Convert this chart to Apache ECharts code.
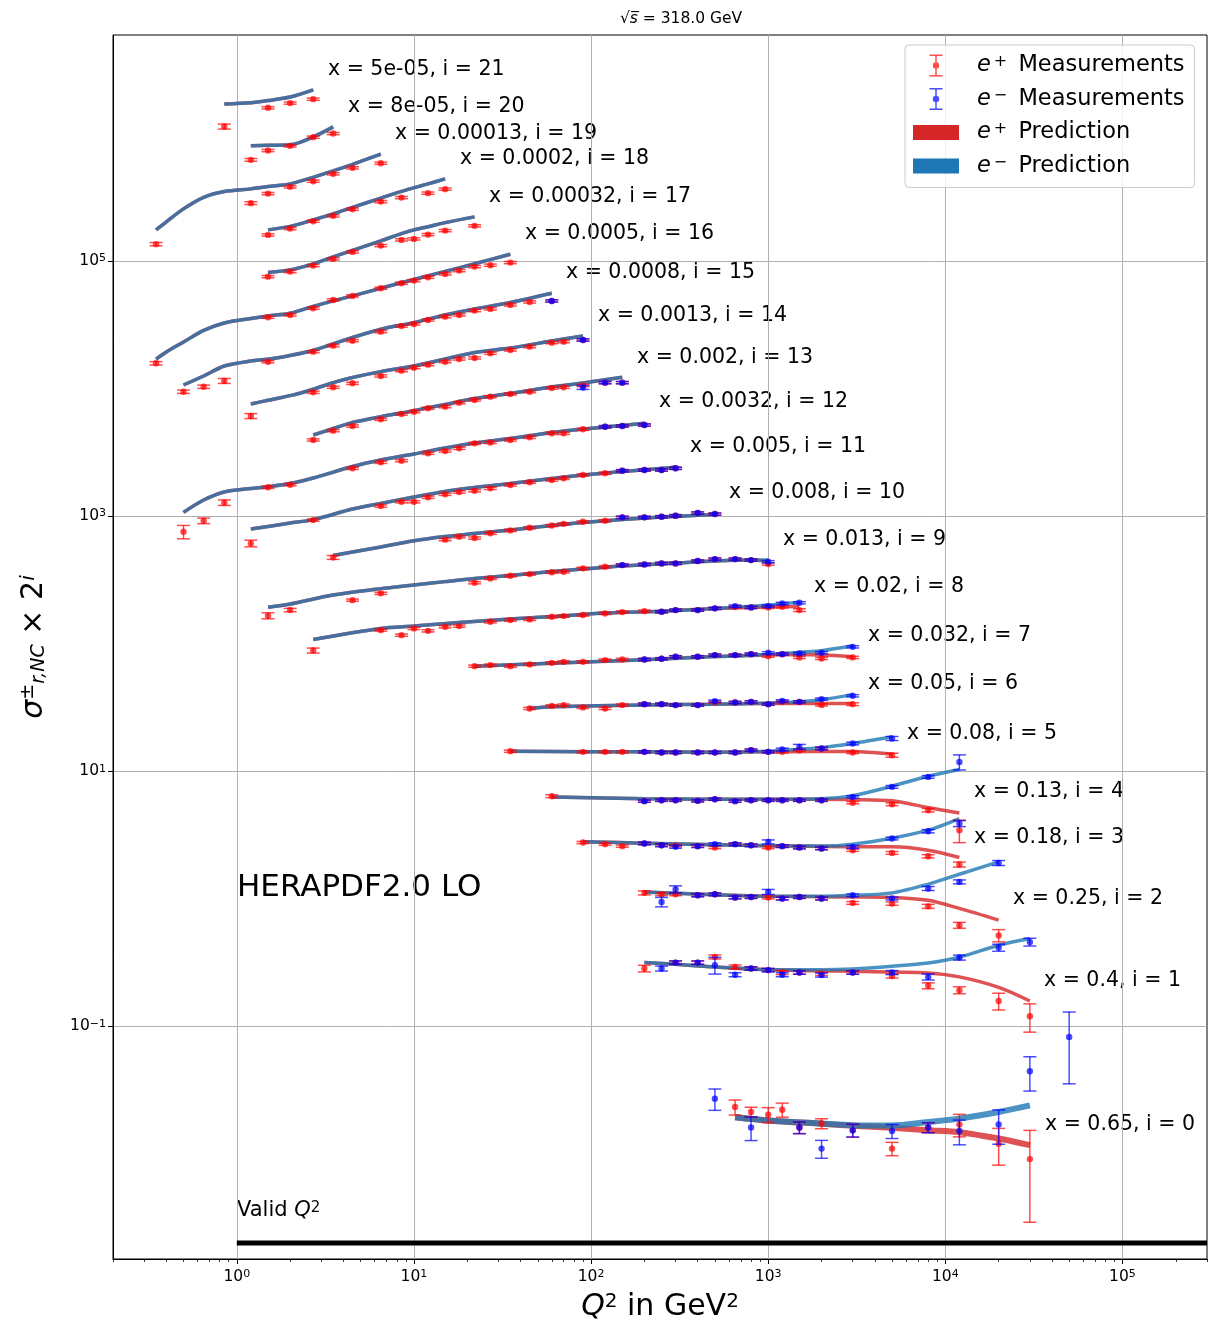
<!DOCTYPE html>
<html>
<head>
<meta charset="utf-8">
<script src="https://cdn.jsdelivr.net/npm/echarts@6/dist/echarts.min.js"></script>
<style>
html, body { margin: 0; padding: 0; background: #fff; }
#chart { width: 1216px; height: 1332px; }
</style>
</head>
<body>
<div id="chart"></div>
<script>
// x value of each bin, index = i (plotted value is sigma * 2^i)
var binX = ['0.65', '0.4', '0.25', '0.18', '0.13', '0.08', '0.05', '0.032', '0.02', '0.013', '0.008',
  '0.005', '0.0032', '0.002', '0.0013', '0.0008', '0.0005', '0.00032', '0.0002', '0.00013', '8e-05', '5e-05'];

// measurements: [Q2, reduced sigma, error in %]
var pos0 = [[650,0.0233,13.5],[800,0.0213,9],[1000,0.0203,13.5],[1200,0.0222,12.6],[1500,0.0161,10.5],[2000,0.0173,9],[3000,0.0153,11.5],[5000,0.0110,12],[8000,0.0161,9],[12000,0.0170,20],[20000,0.0120,32],[30000,0.0091,68]];
var neg0 = [[500,0.0271,19],[800,0.0161,21],[1500,0.0161,10.5],[2000,0.0110,16],[3000,0.0153,11.5],[5000,0.0151,12.6],[8000,0.0161,9],[12000,0.0151,22],[20000,0.0170,30],[30000,0.0444,30],[50000,0.0824,57]];
var pos1 = [[200,0.142,6],[300,0.158,3],[400,0.158,3],[500,0.175,3.6],[650,0.146,3.6],[800,0.142,3],[1000,0.138,3],[1200,0.132,3.6],[1500,0.132,3],[2000,0.129,3],[3000,0.132,3],[5000,0.124,3.6],[8000,0.104,5.4],[12000,0.096,6.3],[20000,0.079,15],[30000,0.060,25]];
var neg1 = [[250,0.142,4.5],[300,0.158,3],[400,0.158,3],[500,0.151,15],[650,0.127,3.6],[800,0.142,3],[1000,0.138,3],[1200,0.127,3.6],[1500,0.132,3],[2000,0.126,3.6],[3000,0.132,3],[5000,0.132,3.6],[8000,0.122,5.4],[12000,0.173,4.5],[20000,0.207,6.3],[30000,0.229,7]];
var pos2 = [[200,0.278,3.6],[250,0.271,2.5],[300,0.271,2.5],[400,0.266,2.5],[500,0.271,2.5],[650,0.256,2.5],[800,0.258,2.5],[1000,0.256,2.5],[1200,0.251,2.5],[1500,0.258,2.5],[2000,0.251,2.5],[3000,0.232,2.5],[5000,0.229,3],[8000,0.218,3.6],[12000,0.155,5.4],[20000,0.129,11]];
var neg2 = [[250,0.236,8.5],[300,0.297,6.3],[400,0.266,2.5],[500,0.271,2.5],[650,0.256,2.5],[800,0.258,2.5],[1000,0.283,4.5],[1200,0.251,2.5],[1500,0.258,2.5],[2000,0.251,2.5],[3000,0.266,2.5],[5000,0.251,2.5],[8000,0.301,3.6],[12000,0.339,3.6],[20000,0.477,4.5]];
var pos3 = [[90,0.345,2],[120,0.335,2],[150,0.323,2],[200,0.339,2],[250,0.328,2],[300,0.326,2],[400,0.323,2],[500,0.315,2],[650,0.335,2],[800,0.328,2],[1000,0.315,2],[1200,0.323,2],[1500,0.315,2],[2000,0.310,2],[3000,0.300,2],[5000,0.286,2.5],[8000,0.269,3],[12000,0.232,4.5]];
var neg3 = [[200,0.339,2.5],[250,0.328,2.5],[300,0.319,2.5],[400,0.323,2.5],[500,0.335,2.5],[650,0.335,2.5],[800,0.328,2.5],[1000,0.349,3.6],[1200,0.323,2.5],[1500,0.315,2.5],[2000,0.310,2.5],[3000,0.319,2.5],[5000,0.371,2.5],[8000,0.423,3],[12000,0.486,5.4]];
var pos4 = [[60,0.398,2.5],[200,0.364,2],[250,0.370,2],[300,0.370,2],[400,0.366,2],[500,0.377,2],[650,0.364,2],[800,0.370,2],[1000,0.370,2],[1200,0.370,2],[1500,0.370,2],[2000,0.370,2],[3000,0.354,2],[5000,0.344,2.5],[8000,0.309,3],[12000,0.215,20]];
var neg4 = [[200,0.364,2],[250,0.370,2],[300,0.370,2],[400,0.366,2],[500,0.377,2],[650,0.364,2],[800,0.370,2],[1000,0.370,2],[1200,0.370,2],[1500,0.370,2],[2000,0.370,2],[3000,0.393,2],[5000,0.471,2.5],[8000,0.564,2.5],[12000,0.739,13.5]];
var pos5 = [[35,0.448,2],[90,0.443,2],[120,0.443,2],[150,0.443,2],[200,0.443,2],[250,0.438,2],[300,0.438,2],[400,0.438,2],[500,0.438,2],[650,0.438,2],[800,0.457,2],[1000,0.443,2],[1200,0.443,2],[1500,0.457,2],[2000,0.471,2],[3000,0.438,2],[5000,0.417,3.6]];
var neg5 = [[200,0.443,2],[250,0.438,2],[300,0.438,2],[400,0.438,2],[500,0.438,2],[650,0.438,2],[800,0.457,2],[1000,0.443,2],[1200,0.462,2.5],[1500,0.485,4.5],[2000,0.471,2.5],[3000,0.515,2.5],[5000,0.564,3.6]];
var pos6 = [[45,0.485,2],[60,0.508,2],[70,0.515,2],[90,0.494,2],[120,0.485,2],[150,0.515,2],[200,0.524,2],[250,0.524,2],[300,0.515,2],[400,0.515,2],[500,0.543,2],[650,0.540,2],[800,0.546,2],[1000,0.524,2],[1200,0.546,2],[1500,0.546,2],[2000,0.517,2],[3000,0.524,2.5]];
var neg6 = [[200,0.524,2],[250,0.524,2],[300,0.515,2],[400,0.515,2],[500,0.553,2],[650,0.540,2],[800,0.546,2],[1000,0.524,2],[1200,0.556,2],[1500,0.546,2],[2000,0.574,2],[3000,0.609,2]];
var pos7 = [[22,0.520,2],[27,0.530,2],[35,0.520,2],[45,0.537,2],[60,0.552,2],[70,0.562,2],[90,0.562,2],[120,0.580,2],[150,0.587,2],[200,0.587,2],[250,0.594,2],[300,0.616,2],[400,0.616,2],[500,0.635,2],[650,0.635,2],[800,0.646,2],[1000,0.623,2],[1200,0.646,2],[1500,0.609,2],[2000,0.598,2],[3000,0.609,2]];
var neg7 = [[200,0.587,2],[250,0.594,2],[300,0.616,2],[400,0.616,2],[500,0.635,2],[650,0.635,2],[800,0.646,2],[1000,0.662,2],[1200,0.646,2],[1500,0.655,2],[2000,0.662,2],[3000,0.737,2]];
var pos8 = [[2.7,0.345,4.5],[6.5,0.498,2],[8.5,0.455,2],[10,0.514,2],[12,0.492,2],[15,0.529,2],[18,0.536,2],[27,0.579,2],[35,0.597,2],[45,0.605,2],[60,0.634,2],[70,0.642,2],[90,0.654,2],[120,0.674,2],[150,0.690,2],[200,0.702,2],[250,0.694,2],[300,0.715,2],[400,0.715,2],[500,0.738,2],[650,0.755,2],[800,0.751,2],[1000,0.751,2],[1200,0.759,2],[1500,0.715,2.5]];
var neg8 = [[250,0.694,2],[300,0.715,2],[400,0.715,2],[500,0.738,2],[650,0.769,2],[800,0.751,2],[1000,0.769,2],[1200,0.807,2],[1500,0.816,2]];
var pos9 = [[1.5,0.323,5.5],[2,0.358,3],[4.5,0.428,2],[6.5,0.484,2],[22,0.586,2],[27,0.634,2],[35,0.665,2],[45,0.685,2],[60,0.708,2],[70,0.714,2],[90,0.760,2],[120,0.782,2],[150,0.806,2],[200,0.816,2],[250,0.831,2],[300,0.831,2],[400,0.867,2],[500,0.898,2],[650,0.898,2],[800,0.882,2],[1000,0.821,2]];
var neg9 = [[150,0.806,2],[200,0.816,2],[250,0.831,2],[300,0.831,2],[400,0.867,2],[500,0.898,2],[650,0.898,2],[800,0.882,2],[1000,0.856,2]];
var pos10 = [[3.5,0.463,3.5],[15,0.638,2],[18,0.672,2],[22,0.657,2],[27,0.715,2],[35,0.754,2],[45,0.791,2],[60,0.823,2],[70,0.848,2],[90,0.881,2],[120,0.897,2],[150,0.954,2],[200,0.954,2],[250,0.964,2],[300,0.982,2],[400,1.031,2],[500,1.012,2]];
var neg10 = [[150,0.954,2],[200,0.954,2],[250,0.964,2],[300,0.982,2],[400,1.031,2],[500,1.012,2]];
var pos11 = [[1.2,0.298,6],[2.7,0.454,2],[6.5,0.585,2],[8.5,0.632,2],[10,0.632,2],[12,0.685,2],[15,0.723,2],[18,0.753,2],[22,0.771,2],[27,0.805,2],[35,0.855,2],[45,0.898,2],[60,0.935,2],[70,0.964,2],[90,1.024,2],[120,1.056,2],[150,1.106,2],[200,1.121,2],[250,1.121,2],[300,1.156,2]];
var neg11 = [[150,1.106,2],[200,1.121,2],[250,1.121,2],[300,1.156,2]];
var pos12 = [[0.5,0.184,12],[0.65,0.224,5],[0.85,0.311,5],[1.5,0.410,2],[2,0.430,2],[4.5,0.578,2],[6.5,0.644,2],[8.5,0.663,2],[12,0.758,2],[15,0.790,2],[18,0.829,2],[22,0.907,2],[27,0.921,2],[35,0.963,2],[45,1.011,2],[60,1.087,2],[70,1.087,2],[90,1.169,2],[120,1.225,2],[150,1.240,2],[200,1.263,2]];
var neg12 = [[120,1.225,2],[150,1.240,2],[200,1.263,2]];
var pos13 = [[2.7,0.482,2],[3.5,0.570,2],[4.5,0.620,2],[6.5,0.700,2],[8.5,0.770,2],[10,0.803,2],[12,0.854,2],[15,0.879,2],[18,0.945,2],[22,0.992,2],[27,1.053,2],[35,1.105,2],[45,1.152,2],[60,1.232,2],[70,1.248,2],[90,1.289,2],[120,1.356,2],[150,1.356,2]];
var neg13 = [[90,1.243,3.5],[120,1.356,2],[150,1.356,2]];
var pos14 = [[1.2,0.371,4.5],[2.7,0.570,2],[3.5,0.624,2],[4.5,0.670,2],[6.5,0.765,2],[8.5,0.842,2],[10,0.889,2],[12,0.938,2],[15,0.990,2],[18,1.040,2],[22,1.059,2],[27,1.152,2],[35,1.223,2],[45,1.298,2],[60,1.396,2],[70,1.421,2],[90,1.465,2]];
var neg14 = [[90,1.465,2]];
var pos15 = [[0.5,0.288,3],[0.65,0.315,3],[0.85,0.350,4.5],[1.5,0.495,2],[2.7,0.593,2],[3.5,0.661,2],[4.5,0.723,2],[6.5,0.851,2],[8.5,0.943,2],[10,0.978,2],[12,1.051,2],[15,1.116,2],[18,1.151,2],[22,1.244,2],[27,1.283,2],[35,1.379,2],[45,1.455,2],[60,1.482,2]];
var neg15 = [[60,1.482,2]];
var pos16 = [[0.35,0.2405,3],[1.5,0.552,2],[2,0.575,2],[2.7,0.650,2],[3.5,0.754,2],[4.5,0.811,2],[6.5,0.932,2],[8.5,1.020,2],[10,1.069,2],[12,1.137,2],[15,1.207,2],[18,1.281,2],[22,1.377,2],[27,1.412,2],[35,1.480,2]];
var pos17 = [[1.5,0.574,2],[2,0.629,2],[2.7,0.701,2],[3.5,0.791,2],[4.5,0.898,2],[6.5,1.006,2],[8.5,1.115,2],[10,1.135,2],[12,1.227,2],[15,1.318,2],[22,1.436,2]];
var pos18 = [[1.5,0.610,2],[2,0.684,2],[2.7,0.781,2],[3.5,0.860,2],[4.5,0.970,2],[6.5,1.113,2],[8.5,1.196,2],[12,1.296,2],[15,1.393,2]];
var pos19 = [[0.35,0.258,3],[1.2,0.541,2.5],[1.5,0.643,2],[2,0.726,2],[2.7,0.804,2],[3.5,0.918,2],[4.5,1.023,2],[6.5,1.113,2]];
var pos20 = [[1.2,0.591,2.5],[1.5,0.699,2],[2,0.761,2],[2.7,0.890,2],[3.5,0.950,2]];
var pos21 = [[0.85,0.539,4.5],[1.5,0.756,2],[2,0.823,2],[2.7,0.884,2]];

// predictions: [Q2, reduced sigma]; fitP = e+, fitM = e-
var fitP0 = [[650,0.0194],[1000,0.0183],[2000,0.0172],[3000,0.0166],[5000,0.0160],[8000,0.0153],[12000,0.0148],[20000,0.0132],[30000,0.0117]];
var fitM0 = [[650,0.0194],[1000,0.0183],[2000,0.0173],[3000,0.0168],[5000,0.0167],[8000,0.0178],[12000,0.0189],[20000,0.0213],[30000,0.0240]];
var fitP1 = [[200,0.158],[300,0.153],[500,0.146],[1000,0.139],[2000,0.136],[3000,0.135],[5000,0.133],[8000,0.131],[12000,0.122],[20000,0.101],[30000,0.079]];
var fitM1 = [[200,0.158],[300,0.153],[500,0.146],[1000,0.139],[2000,0.139],[3000,0.141],[5000,0.148],[8000,0.157],[12000,0.174],[20000,0.216],[30000,0.244]];
var fitP2 = [[200,0.283],[300,0.276],[500,0.269],[1000,0.262],[2000,0.259],[3000,0.258],[5000,0.256],[8000,0.243],[12000,0.210],[20000,0.170]];
var fitM2 = [[200,0.283],[300,0.276],[500,0.269],[1000,0.262],[2000,0.262],[3000,0.266],[5000,0.278],[8000,0.325],[12000,0.389],[20000,0.486]];
var fitP3 = [[90,0.349],[200,0.341],[500,0.332],[1000,0.326],[2000,0.321],[3000,0.319],[5000,0.319],[8000,0.300],[12000,0.263]];
var fitM3 = [[90,0.349],[200,0.341],[500,0.332],[1000,0.326],[2000,0.324],[3000,0.335],[5000,0.373],[8000,0.431],[12000,0.532]];
var fitP4 = [[60,0.393],[200,0.380],[500,0.377],[1000,0.377],[2000,0.377],[3000,0.374],[5000,0.366],[8000,0.324],[12000,0.294]];
var fitM4 = [[60,0.393],[200,0.380],[500,0.377],[1000,0.377],[2000,0.380],[3000,0.402],[5000,0.477],[8000,0.571],[12000,0.645]];
var fitP5 = [[35,0.448],[90,0.444],[200,0.443],[500,0.440],[1000,0.443],[1500,0.444],[2000,0.446],[3000,0.446],[5000,0.425]];
var fitM5 = [[35,0.448],[90,0.444],[200,0.443],[500,0.440],[1000,0.448],[1500,0.465],[2000,0.478],[3000,0.515],[5000,0.581]];
var fitP6 = [[45,0.485],[60,0.499],[200,0.515],[500,0.524],[1000,0.529],[1500,0.531],[2000,0.531],[3000,0.531]];
var fitM6 = [[45,0.485],[60,0.499],[200,0.515],[500,0.524],[1000,0.534],[1500,0.548],[2000,0.568],[3000,0.622]];
var fitP7 = [[22,0.520],[60,0.549],[200,0.585],[500,0.618],[1000,0.635],[1500,0.641],[2000,0.635],[3000,0.616]];
var fitM7 = [[22,0.520],[60,0.549],[200,0.585],[500,0.618],[1000,0.641],[1500,0.670],[2000,0.688],[3000,0.751]];
var fitP8 = [[2.7,0.421],[6.5,0.514],[10,0.536],[18,0.571],[35,0.608],[60,0.636],[120,0.678],[250,0.702],[500,0.735],[1000,0.755],[1500,0.762]];
var fitM8 = [[2.7,0.421],[6.5,0.514],[10,0.536],[18,0.571],[35,0.608],[60,0.636],[120,0.678],[250,0.702],[500,0.735],[1000,0.783],[1500,0.826]];
var fitP9 = [[1.5,0.376],[2,0.399],[3.5,0.469],[6.5,0.527],[10,0.562],[15,0.598],[22,0.632],[35,0.667],[60,0.717],[90,0.750],[150,0.792],[300,0.836],[500,0.867],[800,0.882],[1000,0.859]];
var fitM9 = [[1.5,0.376],[2,0.399],[3.5,0.469],[6.5,0.527],[10,0.562],[15,0.598],[22,0.632],[35,0.667],[60,0.717],[90,0.750],[150,0.792],[300,0.836],[500,0.867],[800,0.882],[1000,0.882]];
var fit10 = [[3.5,0.479],[4.5,0.510],[6.5,0.558],[10,0.625],[15,0.675],[22,0.712],[35,0.759],[60,0.823],[90,0.869],[150,0.917],[250,0.959],[400,0.989],[500,1.007]];
var fit11 = [[1.2,0.386],[2,0.430],[2.7,0.458],[4.5,0.554],[6.5,0.614],[10,0.688],[15,0.760],[22,0.817],[35,0.878],[60,0.961],[90,1.024],[150,1.091],[300,1.176]];
var fit12 = [[0.5,0.261],[0.65,0.326],[0.85,0.377],[1.2,0.401],[1.5,0.415],[2,0.439],[2.7,0.485],[4.5,0.597],[6.5,0.671],[10,0.748],[15,0.834],[22,0.912],[35,0.990],[60,1.103],[90,1.175],[150,1.251],[200,1.302]];
var fit13 = [[2.7,0.527],[3.5,0.593],[4.5,0.661],[6.5,0.734],[10,0.818],[15,0.915],[22,1.019],[35,1.115],[60,1.254],[90,1.348],[150,1.494]];
var fit14 = [[1.2,0.461],[1.5,0.493],[2,0.536],[2.7,0.602],[3.5,0.678],[4.5,0.744],[6.5,0.827],[10,0.916],[15,1.040],[22,1.169],[35,1.268],[60,1.439],[90,1.575]];
var fit15 = [[0.5,0.325],[0.65,0.382],[0.85,0.458],[1.2,0.501],[1.5,0.517],[2,0.554],[2.7,0.606],[3.5,0.682],[4.5,0.766],[6.5,0.889],[10,1.001],[15,1.151],[22,1.283],[35,1.442],[60,1.703]];
var fit16 = [[0.35,0.259],[0.4,0.295],[0.5,0.353],[0.65,0.435],[0.85,0.498],[1.2,0.540],[1.5,0.565],[2,0.593],[2.7,0.671],[3.5,0.741],[4.5,0.811],[6.5,0.932],[10,1.092],[15,1.262],[22,1.451],[35,1.722]];
var fit17 = [[1.5,0.620],[2,0.649],[2.7,0.723],[3.5,0.820],[4.5,0.922],[6.5,1.095],[8.5,1.249],[10,1.335],[12,1.415],[15,1.523],[22,1.689]];
var fit18 = [[1.5,0.668],[2,0.711],[2.7,0.800],[3.5,0.892],[4.5,1.002],[6.5,1.184],[8.5,1.338],[12,1.532],[15,1.677]];
var fit19 = [[0.35,0.334],[0.4,0.386],[0.5,0.488],[0.65,0.601],[0.85,0.667],[1.2,0.700],[1.5,0.730],[2,0.766],[2.7,0.862],[3.5,0.969],[4.5,1.090],[6.5,1.310]];
var fit20 = [[1.2,0.761],[1.5,0.768],[2,0.775],[2.7,0.895],[3.5,1.072]];
var fit21 = [[0.85,0.809],[1.2,0.827],[1.5,0.861],[2,0.919],[2.7,1.046]];

var posData = [pos0, pos1, pos2, pos3, pos4, pos5, pos6, pos7, pos8, pos9, pos10, pos11, pos12, pos13, pos14, pos15, pos16, pos17, pos18, pos19, pos20, pos21];
var negData = [neg0, neg1, neg2, neg3, neg4, neg5, neg6, neg7, neg8, neg9, neg10, neg11, neg12, neg13, neg14, neg15];
var fitPos = [fitP0, fitP1, fitP2, fitP3, fitP4, fitP5, fitP6, fitP7, fitP8, fitP9, fit10, fit11, fit12, fit13, fit14, fit15, fit16, fit17, fit18, fit19, fit20, fit21];
var fitNeg = [fitM0, fitM1, fitM2, fitM3, fitM4, fitM5, fitM6, fitM7, fitM8, fitM9, fit10, fit11, fit12, fit13, fit14, fit15, fit16, fit17, fit18, fit19, fit20, fit21];

var FONT = 'DejaVu Sans';
var RED_PT = 'rgba(255,0,0,0.7)';
var BLUE_PT = 'rgba(0,0,255,0.7)';
var RED_FIT = 'rgba(214,39,40,0.8)';
var BLUE_FIT = 'rgba(31,119,180,0.8)';

// bin label anchors (left, middle) in pixels
var labelAt = [[1045,1125],[1044,981],[1013,899],[974,838],[974,792],[907,734],[868,684],[868,636],[814,587],[783,540],[729,493],
  [690,447],[659,402],[637,358],[598,316],[566,273],[525,234],[489,197],[460,159],[395,134],[348,107],[328,70]];

var chart = echarts.init(document.getElementById('chart'), null, {renderer: 'canvas'});

function errorBars(color) {
  return function (params, api) {
    var q = api.value(0), s = api.value(1), e = api.value(2) / 100;
    var c = api.coord([q, s]);
    var hi = api.coord([q, s * (1 + e)]);
    var lo = api.coord([q, s * (1 - e)]);
    var w = 6.5;
    function ln(x1, y1, x2, y2) {
      return {type: 'line', shape: {x1: x1, y1: y1, x2: x2, y2: y2}, style: {stroke: color, lineWidth: 1.5}};
    }
    return {type: 'group', children: [
      ln(c[0], hi[1], c[0], lo[1]),
      ln(c[0] - w, hi[1], c[0] + w, hi[1]),
      ln(c[0] - w, lo[1], c[0] + w, lo[1]),
      {type: 'circle', shape: {cx: c[0], cy: c[1], r: 3.2}, style: {fill: color}}
    ]};
  };
}

var posPts = [], negPts = [];
var series = [];
for (var i = 0; i < 22; i++) {
  var k = Math.pow(2, i);
  posData[i].forEach(function (p) { posPts.push([p[0], p[1] * k, p[2]]); });
  if (negData[i]) negData[i].forEach(function (p) { negPts.push([p[0], p[1] * k, p[2]]); });
}

function fitLine(name, arr, i, color) {
  var k = Math.pow(2, i);
  return {
    name: name, type: 'line', silent: true, symbol: 'none', smooth: 0.3, z: 2,
    data: arr.map(function (p) { return [p[0], p[1] * k]; }),
    lineStyle: {color: color, width: i === 0 ? 6 : 3.5, cap: 'butt'},
    itemStyle: {color: color}
  };
}
for (i = 0; i < 22; i++) series.push(fitLine('e+ Prediction', fitPos[i], i, RED_FIT));
for (i = 0; i < 22; i++) series.push(fitLine('e- Prediction', fitNeg[i], i, BLUE_FIT));

series.push({
  name: 'valid', type: 'line', silent: true, symbol: 'none', z: 2,
  data: [[1, 0.002], [300000, 0.002]],
  lineStyle: {color: '#000', width: 5}
});
series.push({
  name: 'e+ Measurements', type: 'custom', silent: true, z: 3,
  renderItem: errorBars(RED_PT), data: posPts, encode: {x: 0, y: 1},
  itemStyle: {color: RED_PT}
});
series.push({
  name: 'e- Measurements', type: 'custom', silent: true, z: 4,
  renderItem: errorBars(BLUE_PT), data: negPts, encode: {x: 0, y: 1},
  itemStyle: {color: BLUE_PT}
});

function powLabel(v) {
  var e = Math.round(Math.log10(v));
  return '{b|10}{s|' + (e < 0 ? '\u2212' + (-e) : e) + '}';
}
var tickRich = {
  b: {fontFamily: FONT, fontSize: 15.5, color: '#000'},
  s: {fontFamily: FONT, fontSize: 11, color: '#000', verticalAlign: 'top'}
};
var minorX = [];
[0.1, 1, 10, 100, 1000, 10000, 100000].forEach(function (d) {
  for (var m = 2; m <= 9; m++) { var v = m * d; if (v >= 0.2 && v <= 300000) minorX.push(v); }
});

var ERR_ICON = 'path://M0 0H13V1.5H0ZM5.75 0H7.25V22H5.75ZM0 20.5H13V22H0ZM3.3 11A3.2 3.2 0 1 1 9.7 11A3.2 3.2 0 1 1 3.3 11Z';
var RECT_ICON = 'path://M0 0H46V15H0Z';

var graphics = [];
for (i = 0; i < 22; i++) {
  graphics.push({
    type: 'text', x: labelAt[i][0], y: labelAt[i][1], silent: true,
    style: {text: 'x = ' + binX[i] + ', i = ' + i, fontFamily: FONT, fontSize: 20.5, fill: '#000', align: 'left', verticalAlign: 'middle'}
  });
}
graphics.push({
  type: 'text', x: 237, y: 888, silent: true,
  style: {text: 'HERAPDF2.0 LO', fontFamily: FONT, fontSize: 31, fill: '#000', align: 'left', verticalAlign: 'middle'}
});
graphics.push({
  type: 'text', x: 237, y: 1211, silent: true,
  style: {
    text: '{t|Valid }{q|Q}{s|2}', align: 'left', verticalAlign: 'middle',
    rich: {
      t: {fontFamily: FONT, fontSize: 21, fill: '#000'},
      q: {fontFamily: FONT, fontSize: 21, fontStyle: 'italic', fill: '#000'},
      s: {fontFamily: FONT, fontSize: 15, fill: '#000', verticalAlign: 'top'}
    }
  }
});

var option = {
  animation: false,
  backgroundColor: '#fff',
  title: {
    text: '{r|\u221A}{s|s\u0305}{t| = 318.0 GeV}', left: 676, top: 6, textAlign: 'center',
    textStyle: {fontWeight: 'normal', rich: {
      r: {fontFamily: FONT, fontSize: 15.5, fontWeight: 'normal', color: '#000'},
      s: {fontFamily: FONT, fontSize: 15.5, fontWeight: 'normal', fontStyle: 'italic', color: '#000'},
      t: {fontFamily: FONT, fontSize: 15.5, fontWeight: 'normal', color: '#000'}
    }}
  },
  grid: {left: 113, right: 9, top: 35, bottom: 73, show: true, borderColor: '#000', borderWidth: 1, backgroundColor: 'transparent'},
  legend: {
    orient: 'vertical', left: 905, top: 45, padding: [9, 10, 10, 8],
    itemWidth: 46, itemHeight: 22, itemGap: 10.5, selectedMode: false,
    backgroundColor: 'rgba(255,255,255,0.8)', borderColor: '#cccccc', borderWidth: 1, borderRadius: 4,
    textStyle: {
      fontFamily: FONT, fontSize: 22.5, color: '#000', padding: [0, 0, 0, 13],
      rich: {
        e: {fontFamily: FONT, fontSize: 22.5, fontStyle: 'italic', color: '#000'},
        sp: {fontFamily: FONT, fontSize: 16, color: '#000', verticalAlign: 'top', padding: [0, 4, 0, 3]}
      }
    },
    formatter: function (n) {
      var sign = n.charAt(1) === '+' ? '+' : '\u2212';
      return '{e|e}{sp|' + sign + '}' + n.slice(2);
    },
    data: [
      {name: 'e+ Measurements', icon: ERR_ICON, itemStyle: {color: RED_PT, borderWidth: 0}},
      {name: 'e- Measurements', icon: ERR_ICON, itemStyle: {color: BLUE_PT, borderWidth: 0}},
      {name: 'e+ Prediction', icon: RECT_ICON, itemStyle: {color: '#d62728', borderWidth: 0}},
      {name: 'e- Prediction', icon: RECT_ICON, itemStyle: {color: '#1f77b4', borderWidth: 0}}
    ]
  },
  xAxis: [{
    type: 'log', min: 0.2, max: 300000, position: 'bottom',
    name: '{q|Q}{s|2}{t| in GeV}{s|2}', nameLocation: 'middle', nameGap: 33,
    nameTextStyle: {rich: {
      q: {fontFamily: FONT, fontSize: 30, fontStyle: 'italic', color: '#000'},
      t: {fontFamily: FONT, fontSize: 30, color: '#000'},
      s: {fontFamily: FONT, fontSize: 20, color: '#000', verticalAlign: 'top'}
    }},
    axisLine: {show: true, lineStyle: {color: '#000', width: 1}},
    axisTick: {show: true, customValues: [1, 10, 100, 1000, 10000, 100000], length: 5, lineStyle: {color: '#000', width: 1}},
    axisLabel: {customValues: [1, 10, 100, 1000, 10000, 100000], formatter: powLabel, margin: 10, rich: tickRich},
    splitLine: {show: true, lineStyle: {color: '#b0b0b0', width: 1}},
    minorTick: {show: false}, minorSplitLine: {show: false}
  }, {
    type: 'log', min: 0.2, max: 300000, position: 'bottom', offset: 0,
    axisLine: {show: false},
    axisTick: {show: true, customValues: minorX, length: 3, lineStyle: {color: '#000', width: 0.8}},
    axisLabel: {show: false}, splitLine: {show: false}
  }],
  yAxis: {
    type: 'log', min: 0.0015, max: 5.9e6,
    name: '{s|\u03C3}{pm|\u00B1}{sb|r,NC}{t| \u00D7 2}{i|i}', nameLocation: 'middle', nameRotate: 90, nameGap: 64,
    nameTextStyle: {rich: {
      s: {fontFamily: FONT, fontSize: 30, fontStyle: 'italic', color: '#000'},
      pm: {fontFamily: FONT, fontSize: 19, color: '#000', verticalAlign: 'top'},
      sb: {fontFamily: FONT, fontSize: 19, fontStyle: 'italic', color: '#000', verticalAlign: 'bottom'},
      t: {fontFamily: FONT, fontSize: 30, color: '#000'},
      i: {fontFamily: FONT, fontSize: 20, fontStyle: 'italic', color: '#000', verticalAlign: 'top'}
    }},
    axisLine: {show: true, lineStyle: {color: '#000', width: 1}},
    axisTick: {show: true, customValues: [0.1, 10, 1000, 100000], length: 5, lineStyle: {color: '#000', width: 1}},
    axisLabel: {customValues: [0.1, 10, 1000, 100000], formatter: powLabel, margin: 7, rich: tickRich},
    splitLine: {show: true, lineStyle: {color: '#b0b0b0', width: 1}},
    minorTick: {show: false}, minorSplitLine: {show: false}
  },
  graphic: graphics,
  series: series
};
chart.setOption(option);
</script>
</body>
</html>
